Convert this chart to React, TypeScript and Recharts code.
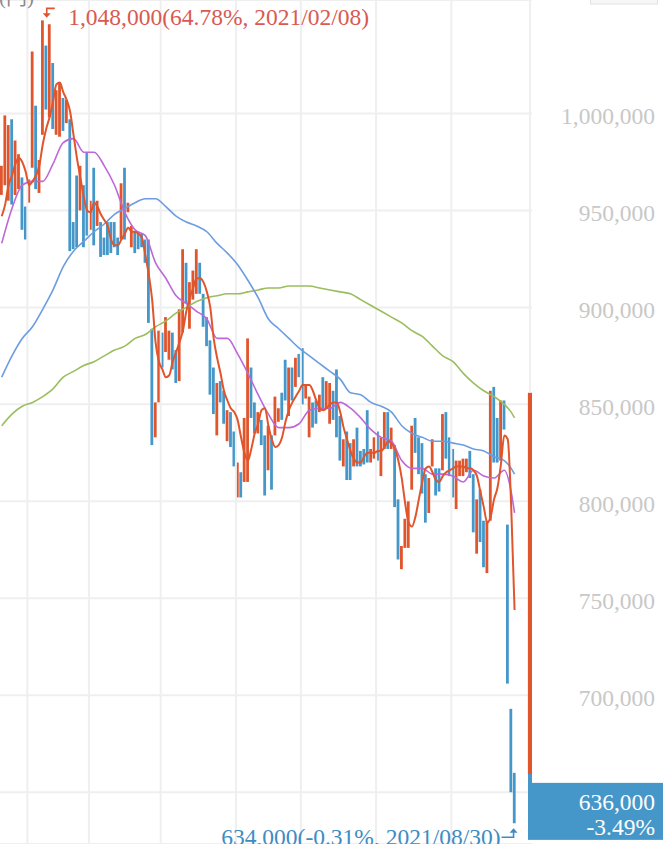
import React from 'react';
import {
  ComposedChart,
  Bar,
  Line,
  XAxis,
  YAxis,
  CartesianGrid,
  ReferenceLine,
  ReferenceArea,
  ReferenceDot,
  Cell,
} from 'recharts';

// ---- data (prices in thousands of yen) ----
const UNIT = 1000;

const highs = [
  973, 999, 994, 997, 986, 979, 967, 952, 966, 1032,
  1004, 976, 1048, 1035, 1046, 1026, 1012, 1016, 1008, 1007,
  997, 944, 968, 973, 963, 980, 955, 972, 955, 944,
  936, 944, 944, 944, 936, 964, 972, 954, 942, 939,
  939, 938, 935, 935, 889, 851, 888, 887, 895, 888,
  887, 878, 899, 930, 923, 913, 919, 930, 923, 907,
  895, 883, 869, 861, 862, 857, 847, 846, 836, 820,
  815, 843, 884, 869, 851, 846, 842, 834, 839, 834,
  854, 848, 856, 873, 869, 869, 874, 876, 879, 860,
  854, 851, 852, 855, 864, 862, 861, 857, 868, 844,
  832, 836, 830, 832, 838, 826, 827, 847, 827, 833,
  836, 833, 846, 846, 838, 829, 801, 777, 791, 800,
  839, 843, 833, 830, 814, 812, 832, 817, 817, 845,
  846, 833, 827, 821, 821, 822, 822, 826, 814, 801,
  806, 790, 790, 857, 859, 843, 852, 852, 788, 693,
  660,
];

const lows = [
  958, 963, 955, 953, 958, 961, 940, 935, 954, 972,
  961, 959, 989, 1002, 998, 992, 989, 988, 991, 995,
  929, 930, 931, 950, 931, 937, 940, 932, 942, 926,
  927, 927, 928, 931, 927, 935, 935, 949, 931, 928,
  930, 931, 923, 892, 829, 833, 851, 869, 877, 873,
  868, 861, 862, 887, 902, 889, 904, 907, 907, 890,
  880, 855, 845, 834, 851, 840, 831, 828, 818, 802,
  802, 810, 810, 843, 835, 835, 829, 803, 816, 806,
  834, 841, 842, 852, 844, 852, 859, 864, 850, 853,
  833, 838, 840, 846, 847, 848, 840, 842, 833, 821,
  818, 811, 811, 818, 818, 818, 819, 820, 820, 822,
  821, 813, 827, 827, 827, 797, 770, 765, 776, 776,
  806, 825, 814, 804, 789, 794, 818, 803, 805, 816,
  822, 813, 802, 796, 813, 813, 815, 812, 784, 773,
  779, 766, 763, 790, 820, 820, 821, 837, 706, 650,
  634,
];

// 1 = rising day (red), 0 = falling day (blue)
const upFlags = [
  1, 1, 1, 0, 1, 1, 0, 0, 1, 1,
  0, 1, 1, 0, 1, 0, 1, 1, 0, 1,
  0, 0, 0, 1, 0, 0, 1, 0, 1, 0,
  0, 0, 0, 0, 0, 1, 0, 1, 1, 0,
  0, 0, 0, 0, 0, 1, 1, 0, 1, 1,
  0, 0, 1, 1, 0, 1, 1, 1, 0, 0,
  0, 0, 0, 1, 0, 0, 1, 0, 0, 1,
  0, 1, 1, 0, 0, 1, 0, 0, 1, 0,
  1, 1, 0, 0, 1, 0, 1, 0, 0, 1,
  1, 0, 0, 1, 0, 1, 1, 0, 0, 0,
  1, 0, 0, 1, 0, 0, 0, 0, 1, 1,
  0, 1, 1, 0, 1, 0, 0, 1, 1, 1,
  1, 0, 0, 0, 0, 1, 1, 0, 0, 1,
  0, 0, 0, 1, 1, 1, 1, 0, 0, 1,
  0, 0, 1, 1, 0, 0, 1, 0, 0, 0,
  0,
];

// short moving average (every day)
const maShort = [
  947, 953, 963, 968, 974, 977, 975, 970, 963, 965,
  968, 973, 984, 992, 998, 1006, 1015, 1016, 1011, 1007,
  1001, 989, 977, 967, 957, 950, 949, 954, 952, 948,
  945, 942, 935, 932, 932, 935, 938, 941, 939, 939,
  938, 936, 927, 917, 904, 882, 872, 868, 864, 865,
  872, 877, 882, 888, 898, 905, 910, 915, 915, 913,
  908, 900, 884, 874, 866, 857, 852, 848, 846, 842,
  833, 825, 821, 827, 835, 840, 847, 848, 839, 832,
  828, 829, 833, 841, 847, 851, 854, 857, 860, 860,
  860, 857, 852, 848, 847, 848, 850, 851, 851, 846,
  838, 832, 826, 822, 820, 820, 823, 825, 825, 825,
  826, 826, 828, 831, 830, 827, 821, 812, 799, 789,
  787, 792, 801, 810, 817, 818, 815, 811, 810, 813,
  815, 816, 817, 818, 818, 818, 817, 817, 816, 813,
  805, 797, 789, 792, 801, 807, 819, 834, 832, 798,
  744,
];

// longer moving averages, sampled on these days
const maDays = [
  0, 3, 6, 9, 12, 15, 18, 21, 24, 27, 30, 33, 36, 39, 42, 45, 48, 51,
  54, 57, 60, 63, 66, 69, 72, 75, 78, 81, 84, 87, 90, 93, 96, 99, 102,
  105, 108, 111, 114, 117, 120, 123, 126, 129, 132, 135, 138, 141, 144,
  147, 149, 150,
];
const maMid = [
  933, 951, 963, 965, 965, 974, 985, 987, 980, 980, 973, 963, 949, 940,
  937, 923, 915, 906, 902, 898, 894, 884, 884, 876, 866, 855, 845, 838,
  838, 840, 847, 848, 848, 851, 848, 843, 837, 833, 831, 821, 817, 817,
  814, 814, 813, 810, 816, 813, 812, 816, 805, 794,
];
const maLong = [
  864, 875, 884, 890, 899, 909, 921, 929, 934, 939, 943, 948, 951, 954,
  956, 956, 952, 947, 944, 942, 939, 933, 928, 922, 914, 905, 894, 889,
  884, 879, 875, 871, 867, 863, 856, 855, 851, 849, 846, 839, 835, 833,
  831, 831, 830, 829, 827, 826, 823, 821, 817, 814,
];
const maVeryLong = [
  839, 845, 849, 851, 854, 858, 864, 867, 870, 872, 875, 878, 880, 884,
  886, 890, 893, 897, 900, 903, 905, 906, 907, 907, 908, 909, 910, 910,
  911, 911, 911, 910, 909, 908, 907, 904, 901, 898, 895, 892, 888, 885,
  880, 875, 872, 866, 861, 857, 854, 850, 846, 843,
];

const yTicks = [650000, 700000, 750000, 800000, 850000, 900000, 950000, 1000000];
const monthStartDays = [8, 26, 47, 69, 88, 110, 132];
const EDGE_DAY = 155;
const SLOTS = 155.6;
const Y_DOMAIN = [623300, 1058500];

const peak = { day: 12, value: 1048000, text: '1,048,000(64.78%, 2021/02/08)' };
const trough = { day: 150, value: 634000, text: '634,000(-0.31%, 2021/08/30)' };
const lastPrice = { value: 636000, price: '636,000', change: '-3.49%' };
const rangeBand = { low: 659000, high: 856000, from: 154.4, to: SLOTS };
const unitLabel = '(円)';

// ---- styles ----
const RED = '#e0552c';
const BLUE = '#4597c9';
const SERIF = '"Liberation Serif", "Times New Roman", "Noto Sans CJK JP", serif';
const GRID = '#efefef';

const table = highs.map((h, i) => {
  const k = maDays.indexOf(i);
  return {
    x: i + 0.5,
    range: [lows[i] * UNIT, h * UNIT],
    up: upFlags[i],
    ma1: maShort[i] * UNIT,
    ma2: k >= 0 ? maMid[k] * UNIT : null,
    ma3: k >= 0 ? maLong[k] * UNIT : null,
    ma4: k >= 0 ? maVeryLong[k] * UNIT : null,
  };
});

const YTick = (props: any) => {
  const { y, payload } = props;
  // the last-price tag sits over any tick label near it
  if (Math.abs(Number(payload.value) - lastPrice.value) < 25000) return null;
  return (
    <text
      x={655}
      y={y + 10.8}
      textAnchor="end"
      fill="#c8c8c8"
      fontSize={23.5}
      fontFamily={SERIF}
    >
      {Number(payload.value).toLocaleString('en-US')}
    </text>
  );
};

const PeakMarker = (props: any) => {
  const { cx, cy } = props;
  if (cx == null || cy == null) return null;
  const ax = cx + 4;
  return (
    <g>
      <path
        d={`M${ax + 8},${cy - 12} L${ax},${cy - 12} L${ax},${cy - 6}`}
        stroke={RED}
        strokeWidth={1.6}
        fill="none"
      />
      <path d={`M${ax - 4},${cy - 7} L${ax + 4},${cy - 7} L${ax},${cy - 2.5} Z`} fill={RED} />
      <text x={cx + 25.5} y={cy + 5} fill="#d95a52" fontSize={23.5} fontFamily={SERIF}>
        {peak.text}
      </text>
    </g>
  );
};

const TroughMarker = (props: any) => {
  const { cx, cy } = props;
  if (cx == null || cy == null) return null;
  const ax = cx - 1;
  return (
    <g>
      <path
        d={`M${ax - 12},${cy + 14} L${ax},${cy + 14} L${ax},${cy + 9}`}
        stroke="#3d8cc4"
        strokeWidth={1.6}
        fill="none"
      />
      <path d={`M${ax - 4},${cy + 9.5} L${ax + 4},${cy + 9.5} L${ax},${cy + 5} Z`} fill="#3d8cc4" />
      <text
        x={cx - 14}
        y={cy + 21.5}
        textAnchor="end"
        fill="#3d8cc4"
        fontSize={23.5}
        fontFamily={SERIF}
      >
        {trough.text}
      </text>
    </g>
  );
};

const PriceTag = (props: any) => {
  const vb = props.viewBox || {};
  if (vb.y == null) return null;
  const right = vb.x + vb.width;
  const y = vb.y;
  return (
    <g>
      <rect x={right - 4} y={y - 45.5} width={4} height={12} fill={BLUE} />
      <rect x={right - 4} y={y - 36.5} width={135} height={57} fill={BLUE} />
      <text x={655} y={y - 9.4} textAnchor="end" fill="#ffffff" fontSize={23.5} fontFamily={SERIF}>
        {lastPrice.price}
      </text>
      <text x={655} y={y + 15.6} textAnchor="end" fill="#ffffff" fontSize={23.5} fontFamily={SERIF}>
        {lastPrice.change}
      </text>
    </g>
  );
};

export default function App() {
  return (
    <div
      style={{
        position: 'absolute',
        left: 0,
        top: 0,
        width: 666,
        height: 844,
        overflow: 'hidden',
        background: '#ffffff',
      }}
    >
      <ComposedChart
        width={666}
        height={844}
        data={table}
        margin={{ top: 0, right: 0, bottom: 0, left: 0 }}
      >
        <CartesianGrid vertical={false} stroke={GRID} strokeWidth={2} />
        <XAxis dataKey="x" type="number" domain={[0, SLOTS]} hide allowDataOverflow />
        <YAxis
          orientation="right"
          width={134}
          domain={Y_DOMAIN}
          ticks={yTicks}
          allowDataOverflow
          axisLine={false}
          tickLine={false}
          tick={<YTick />}
        />
        {monthStartDays.map((d) => (
          <ReferenceLine key={d} x={d} stroke={GRID} strokeWidth={2} />
        ))}
        <ReferenceLine
          segment={[
            { x: EDGE_DAY, y: Y_DOMAIN[1] },
            { x: EDGE_DAY, y: rangeBand.high },
          ]}
          stroke={GRID}
          strokeWidth={2}
        />
        <Bar dataKey="range" barSize={2.8} isAnimationActive={false} activeBar={false}>
          {table.map((d, i) => (
            <Cell key={i} fill={d.up ? RED : BLUE} />
          ))}
        </Bar>
        <Line
          dataKey="ma4"
          type="monotone"
          stroke="#9cbd5e"
          strokeWidth={1.6}
          dot={false}
          activeDot={false}
          connectNulls
          isAnimationActive={false}
        />
        <Line
          dataKey="ma3"
          type="monotone"
          stroke="#6c9de0"
          strokeWidth={1.6}
          dot={false}
          activeDot={false}
          connectNulls
          isAnimationActive={false}
        />
        <Line
          dataKey="ma2"
          type="monotone"
          stroke="#bc68d8"
          strokeWidth={1.6}
          dot={false}
          activeDot={false}
          connectNulls
          isAnimationActive={false}
        />
        <Line
          dataKey="ma1"
          type="monotone"
          stroke={RED}
          strokeWidth={2}
          dot={false}
          activeDot={false}
          isAnimationActive={false}
        />
        <ReferenceArea
          x1={rangeBand.from}
          x2={rangeBand.to}
          y1={rangeBand.low}
          y2={rangeBand.high}
          fill={RED}
          fillOpacity={1}
          stroke="none"
          ifOverflow="visible"
        />
        <ReferenceLine y={lastPrice.value} stroke="none" label={<PriceTag />} />
        <ReferenceDot
          x={peak.day + 0.5}
          y={peak.value}
          r={0}
          shape={(p: any) => <PeakMarker {...p} />}
        />
        <ReferenceDot
          x={trough.day + 0.5}
          y={trough.value}
          r={0}
          shape={(p: any) => <TroughMarker {...p} />}
        />
      </ComposedChart>
      <svg
        width={666}
        height={844}
        style={{ position: 'absolute', left: 0, top: 0, pointerEvents: 'none' }}
      >
        <text x={-1} y={4} fill="#8a8a8a" fontSize={21} fontFamily={SERIF}>
          {unitLabel}
        </text>
        <rect x={590.5} y={-10} width={67} height={14} fill="#f7f7f7" stroke="#e2e2e2" />
      </svg>
    </div>
  );
}
